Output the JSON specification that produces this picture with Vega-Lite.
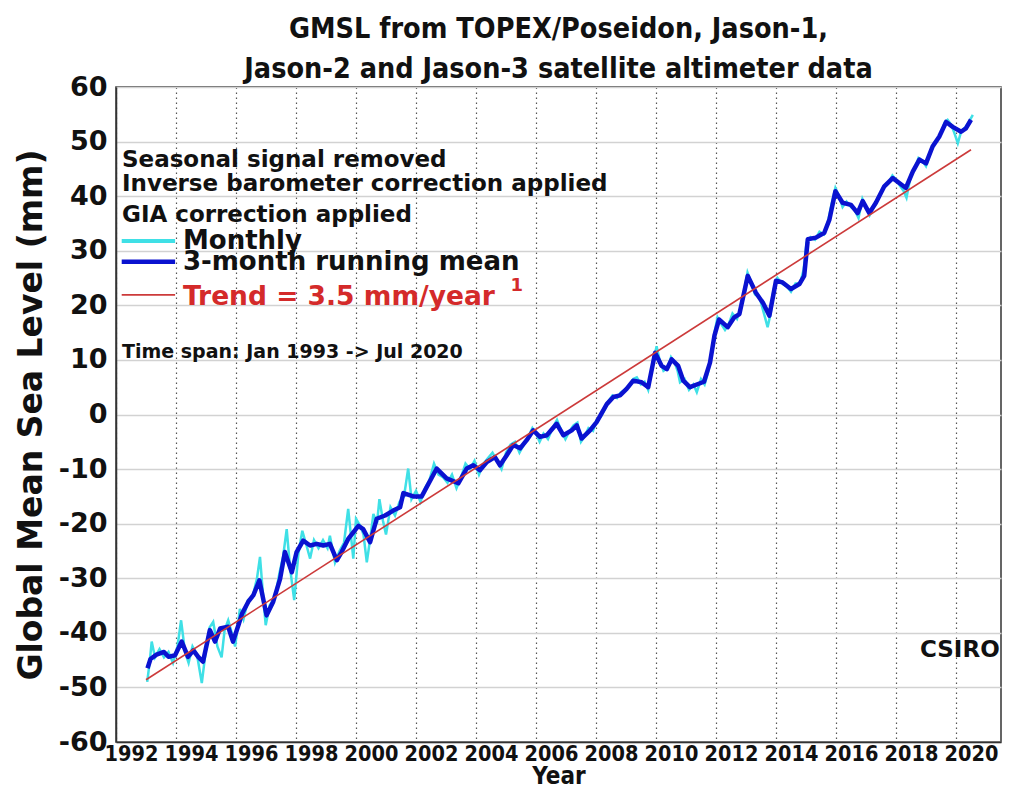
{
  "$schema": "https://vega.github.io/schema/vega-lite/v6.json",
  "autosize": {"type": "none"},
  "padding": {"left": 116, "top": 87, "right": 9, "bottom": 47},
  "width": 885,
  "height": 655,
  "background": "white",
  "config": {
    "view": {"stroke": "#333333", "strokeWidth": 1.5},
    "axis": {"ticks": false, "domainColor": "#333333", "domainWidth": 1.5}
  },
  "title": {
    "text": ["GMSL from TOPEX/Poseidon, Jason-1,", "Jason-2 and Jason-3 satellite altimeter data"],
    "font": "DejaVu Sans Condensed, Liberation Sans, sans-serif",
    "fontSize": 28.5,
    "fontWeight": "bold",
    "lineHeight": 40,
    "anchor": "middle",
    "offset": -10,
    "color": "#111111"
  },
  "datasets": {
    "monthly": [
      {"year": 1993.04, "gmsl": -49.0}, {"year": 1993.12, "gmsl": -45.5}, {"year": 1993.19, "gmsl": -41.6}, {"year": 1993.3, "gmsl": -44.5},
      {"year": 1993.45, "gmsl": -43.0}, {"year": 1993.6, "gmsl": -44.5}, {"year": 1993.75, "gmsl": -43.5}, {"year": 1993.9, "gmsl": -45.5},
      {"year": 1994.05, "gmsl": -42.5}, {"year": 1994.17, "gmsl": -37.7}, {"year": 1994.3, "gmsl": -43.5}, {"year": 1994.42, "gmsl": -45.5},
      {"year": 1994.55, "gmsl": -42.5}, {"year": 1994.7, "gmsl": -44.0}, {"year": 1994.86, "gmsl": -49.2}, {"year": 1995.0, "gmsl": -43.0},
      {"year": 1995.12, "gmsl": -39.0}, {"year": 1995.24, "gmsl": -38.0}, {"year": 1995.38, "gmsl": -42.5}, {"year": 1995.52, "gmsl": -44.5},
      {"year": 1995.62, "gmsl": -39.5}, {"year": 1995.74, "gmsl": -37.7}, {"year": 1995.86, "gmsl": -40.0}, {"year": 1995.97, "gmsl": -42.5},
      {"year": 1996.13, "gmsl": -35.6}, {"year": 1996.25, "gmsl": -37.5}, {"year": 1996.4, "gmsl": -34.0}, {"year": 1996.55, "gmsl": -33.5},
      {"year": 1996.7, "gmsl": -30.0}, {"year": 1996.8, "gmsl": -26.1}, {"year": 1996.9, "gmsl": -33.0}, {"year": 1996.99, "gmsl": -38.6},
      {"year": 1997.12, "gmsl": -35.0}, {"year": 1997.3, "gmsl": -33.5}, {"year": 1997.45, "gmsl": -29.0}, {"year": 1997.57, "gmsl": -26.0},
      {"year": 1997.69, "gmsl": -21.0}, {"year": 1997.8, "gmsl": -28.0}, {"year": 1997.94, "gmsl": -34.0}, {"year": 1998.08, "gmsl": -25.5},
      {"year": 1998.21, "gmsl": -21.3}, {"year": 1998.35, "gmsl": -24.0}, {"year": 1998.47, "gmsl": -26.4}, {"year": 1998.6, "gmsl": -23.0},
      {"year": 1998.75, "gmsl": -24.5}, {"year": 1998.9, "gmsl": -23.0}, {"year": 1999.05, "gmsl": -24.5}, {"year": 1999.13, "gmsl": -22.2},
      {"year": 1999.3, "gmsl": -27.1}, {"year": 1999.45, "gmsl": -25.0}, {"year": 1999.6, "gmsl": -23.5}, {"year": 1999.74, "gmsl": -17.3},
      {"year": 1999.91, "gmsl": -26.4}, {"year": 2000.0, "gmsl": -19.1}, {"year": 2000.15, "gmsl": -20.5}, {"year": 2000.25, "gmsl": -22.0},
      {"year": 2000.36, "gmsl": -27.1}, {"year": 2000.48, "gmsl": -22.5}, {"year": 2000.58, "gmsl": -18.2}, {"year": 2000.7, "gmsl": -20.0},
      {"year": 2000.78, "gmsl": -15.5}, {"year": 2000.9, "gmsl": -19.5}, {"year": 2001.0, "gmsl": -22.0}, {"year": 2001.15, "gmsl": -17.0},
      {"year": 2001.3, "gmsl": -18.5}, {"year": 2001.45, "gmsl": -16.0}, {"year": 2001.6, "gmsl": -15.0}, {"year": 2001.74, "gmsl": -9.9},
      {"year": 2001.85, "gmsl": -15.5}, {"year": 2002.0, "gmsl": -14.0}, {"year": 2002.15, "gmsl": -16.0}, {"year": 2002.3, "gmsl": -13.5},
      {"year": 2002.45, "gmsl": -12.0}, {"year": 2002.6, "gmsl": -9.0}, {"year": 2002.75, "gmsl": -11.0}, {"year": 2002.9, "gmsl": -11.5},
      {"year": 2003.05, "gmsl": -12.5}, {"year": 2003.2, "gmsl": -11.0}, {"year": 2003.35, "gmsl": -13.5}, {"year": 2003.5, "gmsl": -11.5},
      {"year": 2003.65, "gmsl": -9.0}, {"year": 2003.8, "gmsl": -10.0}, {"year": 2003.95, "gmsl": -8.5}, {"year": 2004.1, "gmsl": -11.0},
      {"year": 2004.25, "gmsl": -9.0}, {"year": 2004.4, "gmsl": -8.0}, {"year": 2004.55, "gmsl": -7.0}, {"year": 2004.7, "gmsl": -8.5},
      {"year": 2004.85, "gmsl": -10.0}, {"year": 2005.0, "gmsl": -7.0}, {"year": 2005.15, "gmsl": -5.5}, {"year": 2005.3, "gmsl": -5.0},
      {"year": 2005.45, "gmsl": -7.0}, {"year": 2005.6, "gmsl": -5.5}, {"year": 2005.75, "gmsl": -4.0}, {"year": 2005.88, "gmsl": -2.5},
      {"year": 2006.0, "gmsl": -3.5}, {"year": 2006.12, "gmsl": -5.0}, {"year": 2006.25, "gmsl": -3.5}, {"year": 2006.4, "gmsl": -4.5},
      {"year": 2006.55, "gmsl": -2.5}, {"year": 2006.7, "gmsl": -1.0}, {"year": 2006.85, "gmsl": -3.0}, {"year": 2006.98, "gmsl": -4.5},
      {"year": 2007.12, "gmsl": -3.0}, {"year": 2007.25, "gmsl": -2.0}, {"year": 2007.38, "gmsl": -1.5}, {"year": 2007.5, "gmsl": -5.0},
      {"year": 2007.62, "gmsl": -4.0}, {"year": 2007.75, "gmsl": -2.5}, {"year": 2007.9, "gmsl": -3.0}, {"year": 2008.02, "gmsl": -1.0},
      {"year": 2008.15, "gmsl": -0.5}, {"year": 2008.3, "gmsl": 1.0}, {"year": 2008.42, "gmsl": 2.5}, {"year": 2008.55, "gmsl": 3.5},
      {"year": 2008.7, "gmsl": 3.0}, {"year": 2008.82, "gmsl": 4.0}, {"year": 2008.95, "gmsl": 4.5}, {"year": 2009.1, "gmsl": 5.0},
      {"year": 2009.24, "gmsl": 6.5}, {"year": 2009.36, "gmsl": 6.8}, {"year": 2009.5, "gmsl": 5.5}, {"year": 2009.62, "gmsl": 6.0},
      {"year": 2009.74, "gmsl": 4.5}, {"year": 2009.88, "gmsl": 9.0}, {"year": 2010.02, "gmsl": 12.5}, {"year": 2010.12, "gmsl": 10.0},
      {"year": 2010.25, "gmsl": 8.0}, {"year": 2010.38, "gmsl": 8.5}, {"year": 2010.5, "gmsl": 10.5}, {"year": 2010.62, "gmsl": 9.5},
      {"year": 2010.72, "gmsl": 8.0}, {"year": 2010.8, "gmsl": 5.9}, {"year": 2010.95, "gmsl": 6.5}, {"year": 2011.1, "gmsl": 4.5},
      {"year": 2011.25, "gmsl": 5.5}, {"year": 2011.36, "gmsl": 4.1}, {"year": 2011.5, "gmsl": 6.5}, {"year": 2011.62, "gmsl": 5.5},
      {"year": 2011.75, "gmsl": 8.0}, {"year": 2011.85, "gmsl": 11.0}, {"year": 2011.95, "gmsl": 15.0}, {"year": 2012.05, "gmsl": 17.8},
      {"year": 2012.18, "gmsl": 16.5}, {"year": 2012.3, "gmsl": 15.5}, {"year": 2012.42, "gmsl": 16.5}, {"year": 2012.55, "gmsl": 18.5},
      {"year": 2012.7, "gmsl": 17.5}, {"year": 2012.82, "gmsl": 19.5}, {"year": 2012.95, "gmsl": 23.0}, {"year": 2013.05, "gmsl": 26.0},
      {"year": 2013.15, "gmsl": 24.5}, {"year": 2013.3, "gmsl": 22.0}, {"year": 2013.45, "gmsl": 21.5}, {"year": 2013.55, "gmsl": 19.5},
      {"year": 2013.72, "gmsl": 16.0}, {"year": 2013.82, "gmsl": 18.5}, {"year": 2013.92, "gmsl": 23.0}, {"year": 2014.05, "gmsl": 25.0},
      {"year": 2014.2, "gmsl": 24.0}, {"year": 2014.35, "gmsl": 23.5}, {"year": 2014.5, "gmsl": 22.5}, {"year": 2014.65, "gmsl": 24.0},
      {"year": 2014.8, "gmsl": 24.0}, {"year": 2014.92, "gmsl": 26.5}, {"year": 2015.02, "gmsl": 31.5}, {"year": 2015.15, "gmsl": 32.5},
      {"year": 2015.3, "gmsl": 32.0}, {"year": 2015.45, "gmsl": 33.5}, {"year": 2015.6, "gmsl": 33.0}, {"year": 2015.72, "gmsl": 35.0},
      {"year": 2015.85, "gmsl": 38.5}, {"year": 2015.98, "gmsl": 41.5}, {"year": 2016.1, "gmsl": 40.0}, {"year": 2016.22, "gmsl": 38.0},
      {"year": 2016.35, "gmsl": 39.0}, {"year": 2016.5, "gmsl": 38.0}, {"year": 2016.62, "gmsl": 37.5}, {"year": 2016.75, "gmsl": 36.0},
      {"year": 2016.88, "gmsl": 39.5}, {"year": 2017.0, "gmsl": 38.0}, {"year": 2017.12, "gmsl": 36.5}, {"year": 2017.25, "gmsl": 38.0},
      {"year": 2017.38, "gmsl": 39.5}, {"year": 2017.5, "gmsl": 40.5}, {"year": 2017.62, "gmsl": 42.0}, {"year": 2017.75, "gmsl": 42.5},
      {"year": 2017.88, "gmsl": 43.8}, {"year": 2018.0, "gmsl": 43.0}, {"year": 2018.12, "gmsl": 42.0}, {"year": 2018.25, "gmsl": 41.0},
      {"year": 2018.35, "gmsl": 39.7}, {"year": 2018.5, "gmsl": 44.0}, {"year": 2018.62, "gmsl": 45.0}, {"year": 2018.75, "gmsl": 47.0},
      {"year": 2018.88, "gmsl": 46.5}, {"year": 2019.0, "gmsl": 45.5}, {"year": 2019.12, "gmsl": 47.5}, {"year": 2019.25, "gmsl": 49.5},
      {"year": 2019.38, "gmsl": 50.5}, {"year": 2019.5, "gmsl": 51.5}, {"year": 2019.62, "gmsl": 53.5}, {"year": 2019.72, "gmsl": 54.0},
      {"year": 2019.85, "gmsl": 53.0}, {"year": 2019.95, "gmsl": 51.5}, {"year": 2020.06, "gmsl": 49.7}, {"year": 2020.18, "gmsl": 52.0},
      {"year": 2020.3, "gmsl": 52.5}, {"year": 2020.42, "gmsl": 53.5}, {"year": 2020.56, "gmsl": 54.9}
    ],
    "mean": [
      {"year": 1993.05, "gmsl": -46.5}, {"year": 1993.15, "gmsl": -44.8}, {"year": 1993.35, "gmsl": -44.0}, {"year": 1993.6, "gmsl": -43.5},
      {"year": 1993.75, "gmsl": -44.4}, {"year": 1993.97, "gmsl": -44.1}, {"year": 1994.19, "gmsl": -41.6}, {"year": 1994.4, "gmsl": -44.4},
      {"year": 1994.58, "gmsl": -43.2}, {"year": 1994.74, "gmsl": -44.4}, {"year": 1994.9, "gmsl": -45.3}, {"year": 1995.13, "gmsl": -39.5},
      {"year": 1995.3, "gmsl": -41.6}, {"year": 1995.47, "gmsl": -39.2}, {"year": 1995.74, "gmsl": -38.9}, {"year": 1995.9, "gmsl": -41.6},
      {"year": 1996.08, "gmsl": -38.6}, {"year": 1996.2, "gmsl": -36.5}, {"year": 1996.41, "gmsl": -34.3}, {"year": 1996.58, "gmsl": -33.1},
      {"year": 1996.78, "gmsl": -30.4}, {"year": 1997.02, "gmsl": -36.8}, {"year": 1997.24, "gmsl": -34.3}, {"year": 1997.47, "gmsl": -30.1},
      {"year": 1997.63, "gmsl": -25.2}, {"year": 1997.86, "gmsl": -28.9}, {"year": 1998.02, "gmsl": -25.2}, {"year": 1998.24, "gmsl": -23.1},
      {"year": 1998.47, "gmsl": -24.0}, {"year": 1998.69, "gmsl": -23.7}, {"year": 1998.91, "gmsl": -24.0}, {"year": 1999.13, "gmsl": -23.7},
      {"year": 1999.36, "gmsl": -26.7}, {"year": 1999.52, "gmsl": -25.2}, {"year": 1999.74, "gmsl": -22.8}, {"year": 2000.08, "gmsl": -20.4},
      {"year": 2000.24, "gmsl": -21.0}, {"year": 2000.47, "gmsl": -23.4}, {"year": 2000.69, "gmsl": -19.1}, {"year": 2000.97, "gmsl": -18.5},
      {"year": 2001.24, "gmsl": -17.6}, {"year": 2001.47, "gmsl": -17.0}, {"year": 2001.58, "gmsl": -14.4}, {"year": 2001.91, "gmsl": -15.0},
      {"year": 2002.19, "gmsl": -15.0}, {"year": 2002.69, "gmsl": -9.9}, {"year": 2003.02, "gmsl": -11.7}, {"year": 2003.41, "gmsl": -12.6},
      {"year": 2003.69, "gmsl": -9.9}, {"year": 2003.91, "gmsl": -9.3}, {"year": 2004.13, "gmsl": -10.2}, {"year": 2004.36, "gmsl": -8.7},
      {"year": 2004.63, "gmsl": -7.8}, {"year": 2004.8, "gmsl": -9.3}, {"year": 2005.02, "gmsl": -7.5}, {"year": 2005.24, "gmsl": -5.6},
      {"year": 2005.47, "gmsl": -6.2}, {"year": 2005.69, "gmsl": -4.7}, {"year": 2005.91, "gmsl": -2.9}, {"year": 2006.13, "gmsl": -4.1},
      {"year": 2006.36, "gmsl": -3.8}, {"year": 2006.69, "gmsl": -1.7}, {"year": 2006.91, "gmsl": -3.8}, {"year": 2007.19, "gmsl": -2.9},
      {"year": 2007.36, "gmsl": -2.0}, {"year": 2007.52, "gmsl": -4.4}, {"year": 2007.8, "gmsl": -2.9}, {"year": 2008.02, "gmsl": -1.4},
      {"year": 2008.36, "gmsl": 1.9}, {"year": 2008.58, "gmsl": 3.2}, {"year": 2008.8, "gmsl": 3.5}, {"year": 2009.02, "gmsl": 4.7},
      {"year": 2009.24, "gmsl": 6.2}, {"year": 2009.52, "gmsl": 5.9}, {"year": 2009.74, "gmsl": 5.0}, {"year": 2009.97, "gmsl": 11.3},
      {"year": 2010.19, "gmsl": 8.9}, {"year": 2010.36, "gmsl": 8.3}, {"year": 2010.52, "gmsl": 10.1}, {"year": 2010.74, "gmsl": 8.9},
      {"year": 2010.91, "gmsl": 6.2}, {"year": 2011.13, "gmsl": 5.0}, {"year": 2011.36, "gmsl": 5.5}, {"year": 2011.6, "gmsl": 6.0},
      {"year": 2011.8, "gmsl": 9.5}, {"year": 2011.95, "gmsl": 14.5}, {"year": 2012.1, "gmsl": 17.4}, {"year": 2012.39, "gmsl": 16.0},
      {"year": 2012.61, "gmsl": 17.8}, {"year": 2012.78, "gmsl": 18.4}, {"year": 2013.06, "gmsl": 25.4}, {"year": 2013.33, "gmsl": 22.3},
      {"year": 2013.56, "gmsl": 20.5}, {"year": 2013.78, "gmsl": 18.1}, {"year": 2014.0, "gmsl": 24.5}, {"year": 2014.22, "gmsl": 24.2},
      {"year": 2014.5, "gmsl": 23.0}, {"year": 2014.78, "gmsl": 23.9}, {"year": 2014.94, "gmsl": 25.4}, {"year": 2015.06, "gmsl": 32.1},
      {"year": 2015.33, "gmsl": 32.4}, {"year": 2015.61, "gmsl": 33.3}, {"year": 2015.78, "gmsl": 35.7}, {"year": 2015.98, "gmsl": 40.9},
      {"year": 2016.22, "gmsl": 38.8}, {"year": 2016.5, "gmsl": 38.4}, {"year": 2016.72, "gmsl": 36.9}, {"year": 2016.89, "gmsl": 39.1},
      {"year": 2017.11, "gmsl": 36.9}, {"year": 2017.33, "gmsl": 38.8}, {"year": 2017.61, "gmsl": 41.8}, {"year": 2017.89, "gmsl": 43.3},
      {"year": 2018.11, "gmsl": 42.4}, {"year": 2018.33, "gmsl": 41.5}, {"year": 2018.56, "gmsl": 44.5}, {"year": 2018.78, "gmsl": 46.7},
      {"year": 2019.0, "gmsl": 46.0}, {"year": 2019.22, "gmsl": 49.1}, {"year": 2019.44, "gmsl": 50.9}, {"year": 2019.67, "gmsl": 53.6},
      {"year": 2019.89, "gmsl": 52.7}, {"year": 2020.17, "gmsl": 51.8}, {"year": 2020.33, "gmsl": 52.4}, {"year": 2020.5, "gmsl": 54.0}
    ],
    "trend": [
      {"year": 1993.0, "gmsl": -48.6},
      {"year": 2020.5, "gmsl": 48.5}
    ]
  },
  "layer": [
    {
      "data": {"name": "monthly"},
      "mark": {"type": "line", "color": "#3fe0e6", "strokeWidth": 2.5},
      "encoding": {
        "x": {
          "field": "year", "type": "quantitative",
          "scale": {"domain": [1992, 2021.5], "nice": false, "zero": false},
          "axis": {
            "title": "Year",
            "values": [1992, 1993, 1994, 1995, 1996, 1997, 1998, 1999, 2000, 2001, 2002, 2003, 2004, 2005, 2006, 2007, 2008, 2009, 2010, 2011, 2012, 2013, 2014, 2015, 2016, 2017, 2018, 2019, 2020, 2021],
            "format": "d",
            "labelExpr": "datum.value % 2 == 0 ? datum.label : ''",
            "labelOffset": 15,
            "labelOverlap": false,
            "labelFlush": false,
            "labelBound": false,
            "labelFont": "DejaVu Sans Condensed, Liberation Sans, sans-serif",
            "labelFontSize": 21.5,
            "labelFontWeight": "bold",
            "labelColor": "#111111",
            "labelPadding": 1,
            "titleFont": "DejaVu Sans Condensed, Liberation Sans, sans-serif",
            "titleFontSize": 24,
            "titleFontWeight": "bold",
            "titleColor": "#111111",
            "titlePadding": 0,
            "grid": true,
            "gridColor": "#555555",
            "gridDash": [1.5, 3.5],
            "gridWidth": 1.2
          }
        },
        "y": {
          "field": "gmsl", "type": "quantitative",
          "scale": {"domain": [-60, 60], "nice": false, "zero": false},
          "axis": {
            "title": "Global Mean Sea Level (mm)",
            "values": [-60, -50, -40, -30, -20, -10, 0, 10, 20, 30, 40, 50, 60],
            "labelExpr": "'' + datum.value",
            "labelFont": "DejaVu Sans",
            "labelFontSize": 27,
            "labelFontWeight": "bold",
            "labelColor": "#111111",
            "labelPadding": 9,
            "labelFlush": false,
            "labelOverlap": false,
            "titleFont": "DejaVu Sans",
            "titleFontSize": 33,
            "titleFontWeight": "bold",
            "titleColor": "#111111",
            "titlePadding": 10,
            "grid": true,
            "gridColor": "#d2d2d2",
            "gridWidth": 1.5
          }
        }
      }
    },
    {
      "data": {"name": "mean"},
      "mark": {"type": "line", "color": "#0a12d0", "strokeWidth": 4.5, "strokeJoin": "round"},
      "encoding": {
        "x": {"field": "year", "type": "quantitative"},
        "y": {"field": "gmsl", "type": "quantitative"}
      }
    },
    {
      "data": {"name": "trend"},
      "mark": {"type": "line", "color": "#cc3a3a", "strokeWidth": 1.6},
      "encoding": {
        "x": {"field": "year", "type": "quantitative"},
        "y": {"field": "gmsl", "type": "quantitative"}
      }
    },
    {
      "data": {"values": [{}]},
      "mark": {"type": "text", "text": "Seasonal signal removed", "align": "left", "baseline": "middle", "font": "DejaVu Sans", "fontSize": 23, "fontWeight": "bold", "color": "#111111"},
      "encoding": {"x": {"datum": 1992.2, "type": "quantitative"}, "y": {"datum": 46.6, "type": "quantitative"}}
    },
    {
      "data": {"values": [{}]},
      "mark": {"type": "text", "text": "Inverse barometer correction applied", "align": "left", "baseline": "middle", "font": "DejaVu Sans", "fontSize": 23, "fontWeight": "bold", "color": "#111111"},
      "encoding": {"x": {"datum": 1992.2, "type": "quantitative"}, "y": {"datum": 42.2, "type": "quantitative"}}
    },
    {
      "data": {"values": [{}]},
      "mark": {"type": "text", "text": "GIA correction applied", "align": "left", "baseline": "middle", "font": "DejaVu Sans", "fontSize": 23, "fontWeight": "bold", "color": "#111111"},
      "encoding": {"x": {"datum": 1992.2, "type": "quantitative"}, "y": {"datum": 36.5, "type": "quantitative"}}
    },
    {
      "data": {"values": [{}]},
      "mark": {"type": "rule", "color": "#3fe0e6", "strokeWidth": 4},
      "encoding": {"x": {"datum": 1992.19, "type": "quantitative"}, "x2": {"datum": 1993.97}, "y": {"datum": 31.8, "type": "quantitative"}}
    },
    {
      "data": {"values": [{}]},
      "mark": {"type": "rule", "color": "#0a12d0", "strokeWidth": 4.5},
      "encoding": {"x": {"datum": 1992.19, "type": "quantitative"}, "x2": {"datum": 1993.97}, "y": {"datum": 28.0, "type": "quantitative"}}
    },
    {
      "data": {"values": [{}]},
      "mark": {"type": "rule", "color": "#cc3a3a", "strokeWidth": 1.8},
      "encoding": {"x": {"datum": 1992.19, "type": "quantitative"}, "x2": {"datum": 1993.97}, "y": {"datum": 21.9, "type": "quantitative"}}
    },
    {
      "data": {"values": [{}]},
      "mark": {"type": "text", "text": "Monthly", "align": "left", "baseline": "middle", "font": "DejaVu Sans", "fontSize": 26, "fontWeight": "bold", "color": "#111111"},
      "encoding": {"x": {"datum": 1994.23, "type": "quantitative"}, "y": {"datum": 31.7, "type": "quantitative"}}
    },
    {
      "data": {"values": [{}]},
      "mark": {"type": "text", "text": "3-month running mean", "align": "left", "baseline": "middle", "font": "DejaVu Sans", "fontSize": 26, "fontWeight": "bold", "color": "#111111"},
      "encoding": {"x": {"datum": 1994.23, "type": "quantitative"}, "y": {"datum": 27.9, "type": "quantitative"}}
    },
    {
      "data": {"values": [{}]},
      "mark": {"type": "text", "text": "Trend = 3.5 mm/year", "align": "left", "baseline": "middle", "font": "DejaVu Sans", "fontSize": 26.5, "fontWeight": "bold", "color": "#d42a2a"},
      "encoding": {"x": {"datum": 1994.23, "type": "quantitative"}, "y": {"datum": 21.5, "type": "quantitative"}}
    },
    {
      "data": {"values": [{}]},
      "mark": {"type": "text", "text": "1", "align": "left", "baseline": "middle", "font": "DejaVu Sans", "fontSize": 18, "fontWeight": "bold", "color": "#d42a2a"},
      "encoding": {"x": {"datum": 2005.15, "type": "quantitative"}, "y": {"datum": 23.6, "type": "quantitative"}}
    },
    {
      "data": {"values": [{}]},
      "mark": {"type": "text", "text": "Time span: Jan 1993 -> Jul 2020", "align": "left", "baseline": "middle", "font": "DejaVu Sans", "fontSize": 19, "fontWeight": "bold", "color": "#111111"},
      "encoding": {"x": {"datum": 1992.2, "type": "quantitative"}, "y": {"datum": 11.4, "type": "quantitative"}}
    },
    {
      "data": {"values": [{}]},
      "mark": {"type": "text", "text": "CSIRO", "align": "left", "baseline": "middle", "font": "DejaVu Sans", "fontSize": 23, "fontWeight": "bold", "color": "#111111"},
      "encoding": {"x": {"datum": 2018.8, "type": "quantitative"}, "y": {"datum": -43.1, "type": "quantitative"}}
    }
  ]
}
